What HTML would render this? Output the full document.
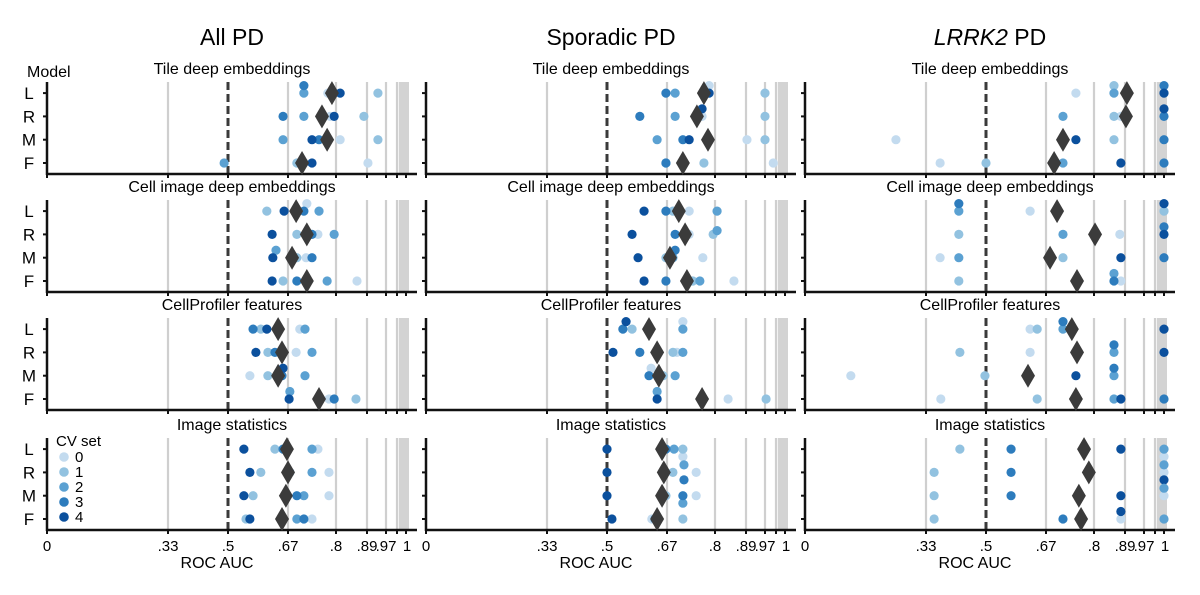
<!DOCTYPE html>
<html><head><meta charset="utf-8">
<style>
body{margin:0;background:#fff;}
svg{display:block;font-family:"Liberation Sans",Arial,sans-serif;}
</style></head>
<body>
<svg id="chart" width="1200" height="595" viewBox="0 0 1200 595" xmlns="http://www.w3.org/2000/svg"></svg>
<script>
// ---- data ----
const columnTitles = ["All PD", "Sporadic PD", "LRRK2 PD"];
const panelTitles = ["Tile deep embeddings", "Cell image deep embeddings", "CellProfiler features", "Image statistics"];
const modelLabels = ["L", "R", "M", "F"];
const cvSets = ["0", "1", "2", "3", "4"];
const tickValues = [0, .33, .5, .67, .8, .89, .97, .99, 1];
const tickLabels = ["0", ".33", ".5", ".67", ".8", ".89", ".97", "", "1"];

// AUC per [panel][model][cvSet]
const allPD = [
 [[.778,.936,.713,.713,.812],[.784,.881,.713,.656,.795],[.812,.936,.656,.754,.735],[.894,.694,.489,.713,.735]],
 [[.721,.610,.754,.713,.659],[.751,.694,.795,.735,.625],[.719,.694,.636,.735,.627],[.861,.656,.776,.694,.625]],
 [[.702,.593,.716,.571,.610],[.692,.613,.735,.633,.579],[.562,.613,.716,.653,.656],[.781,.858,.675,.795,.673]],
 [[.751,.633,.735,.656,.545],[.781,.593,.735,.675,.562],[.781,.571,.713,.694,.545],[.735,.551,.694,.713,.562]]
];
const allPDMeans = [[.789,.762,.776,.708],[.692,.721,.681,.721],[.642,.653,.642,.754],[.667,.670,.664,.653]];
const sporadicPD = [
 [[.784,.970,.692,.667,.784],[.765,.970,.692,.593,.765],[.894,.970,.642,.713,.730],[.985,.770,.667,.667,.713]],
 [[.730,.686,.806,.667,.605],[.730,.795,.806,.692,.571],[.767,.667,.686,.692,.588],[.855,.740,.759,.667,.605]],
 [[.713,.571,.713,.545,.554],[.697,.686,.713,.593,.517],[.625,.659,.692,.619,.647],[.838,.972,.642,.762,.642]],
 [[.713,.713,.689,.667,.500],[.749,.686,.716,.716,.500],[.749,.667,.713,.713,.500],[.627,.713,.642,.636,.514]]
];
const sporadicPDMeans = [[.770,.751,.781,.713],[.702,.719,.678,.724],[.619,.642,.647,.765],[.656,.661,.656,.642]];
const lrrk2PD = [
 [[.751,.858,.858,1,1],[.878,.858,.716,1,1],[.248,.858,.716,1,.751],[.370,.500,.716,1,.878]],
 [[.625,1,.423,.423,1],[.875,.423,.716,1,1],[.370,.716,.423,1,.878],[.878,.423,.858,.858,.754]],
 [[.625,.645,.716,.716,1],[.625,.426,.858,.858,1],[.125,.497,.858,.858,.751],[.372,.645,.858,1,.878]],
 [[1,.426,1,.571,.878],[1,.353,1,.571,1],[1,.353,1,.571,.878],[.878,.353,1,.716,.878]]
];
const lrrk2PDMeans = [[.898,.894,.716,.692],[.700,.803,.681,.754],[.740,.754,.619,.751],[.773,.786,.759,.765]];
// vertical dodge (in dot steps) for overlapping points, [panel][model][cvSet]
const dodgeAll = [
 [[0,0,0,-1,0],[0,0,0,0,0],[0,0,0,0,0],[0,0,0,0,0]],
 [[-1,0,0,0,0],[0,0,0,0,0],[0,0,-1,0,0],[0,0,0,0,0]],
 [[0,0,0,0,0],[0,0,0,0,0],[0,0,0,0,-1],[0,0,-1,0,0]],
 [[0,0,0,0,0],[0,0,0,0,0],[0,0,0,0,0],[0,0,0,0,0]]
];
const dodgeSporadic = [
 [[-1,0,0,0,0],[0,0,0,0,-1],[0,0,0,0,0],[0,0,0,0,0]],
 [[0,0,0,0,0],[0,0,-0.5,0,0],[0,0,0,-1,0],[0,0,0,0,0]],
 [[-1,0,0,0,-1],[0,0,0,0,0],[-1,0,0,0,0],[0,0,-1,0,0]],
 [[1,0,0,0,0],[0,0,-1,1,0],[0,0,1,0,0],[0,0,0,0,0]]
];
const dodgeLrrk2 = [
 [[0,-1,0,-1,0],[0,0,0,0,-1],[0,0,0,0,0],[0,0,0,0,0]],
 [[0,0,0,-1,-1],[0,0,0,-1,0],[0,0,0,0,0],[0,0,-1,0,0]],
 [[0,0,0,-1,0],[0,0,0,-1,0],[0,0,0,-1,0],[0,0,0,0,0]],
 [[1,0,0,0,0],[0,0,-1,0,1],[0,0,-1,0,0],[0,0,0,0,-1]]
];

// ---- layout ----
const NS = "http://www.w3.org/2000/svg";
const svg = document.getElementById('chart');
const colLeft = [47, 426, 805];
const tickOffsets = [0, 121, 181, 241, 289, 320, 339, 350, 359];
const panelBottom = [174, 292, 410, 530];
const panelHeight = 92;
const cvColors = ["#c3dbef", "#92c2e0", "#5ba1d2", "#2d7cbd", "#0b509d"];
const datasets = [allPD, sporadicPD, lrrk2PD];
const meansSets = [allPDMeans, sporadicPDMeans, lrrk2PDMeans];
const dodgeSets = [dodgeAll, dodgeSporadic, dodgeLrrk2];

function xScale(col, v) {
  let off = 0;
  for (let i = 0; i < tickValues.length - 1; i++) {
    if (v <= tickValues[i + 1] || i === tickValues.length - 2) {
      const t = (v - tickValues[i]) / (tickValues[i + 1] - tickValues[i]);
      off = tickOffsets[i] + Math.max(0, Math.min(1, t)) * (tickOffsets[i + 1] - tickOffsets[i]);
      break;
    }
  }
  return colLeft[col] + off;
}
function yScale(panel, model) {
  return panelBottom[panel] - 11 - (3 - model) * 23.3;
}
function mk(tag, attrs, parent, text) {
  const e = document.createElementNS(NS, tag);
  for (const k in attrs) e.setAttribute(k, attrs[k]);
  if (text !== undefined) e.textContent = text;
  (parent || svg).appendChild(e);
  return e;
}

// column titles
columnTitles.forEach((t, c) => {
  const cx = colLeft[c] + 185;
  const el = mk('text', {x: cx, y: 45, 'font-size': 23, 'text-anchor': 'middle', fill: '#000'});
  
  
  if (c === 2) {
    mk('tspan', {'font-style': 'italic'}, el, 'LRRK2');
    mk('tspan', {}, el, ' PD');
  } else el.textContent = t;
});

// model axis label
const ml = mk('text', {x: 27, y: 77, 'font-size': 16}, svg, 'Model');



for (let c = 0; c < 3; c++) {
  const L = colLeft[c];
  for (let p = 0; p < 4; p++) {
    const g = mk('g', {});
    
    
    const bot = panelBottom[p], top = bot - panelHeight;
    // band near 1
    mk('rect', {x: xScale(c, .992), y: top, width: xScale(c, 1) - xScale(c, .992) + 3, height: panelHeight, fill: '#d3d3d3'}, g);
    // grid lines
    [.33, .67, .8, .89, .97, .99].forEach(v => {
      const gl = mk('line', {x1: xScale(c, v), x2: xScale(c, v), y1: top, y2: bot, stroke: '#cfcfcf', 'stroke-width': 2.2}, g);
      
      
    });
    const dl = mk('line', {x1: xScale(c, .5), x2: xScale(c, .5), y1: top, y2: bot, stroke: '#3a3a3a', 'stroke-width': 3, 'stroke-dasharray': '8,4'}, g);
    
    
    // title
    const pt = mk('text', {x: L + 185, y: top - 8, 'font-size': 16, 'text-anchor': 'middle'}, g, panelTitles[p]);
    
    
    // axes
    mk('line', {x1: L, x2: L, y1: top, y2: bot + 1, stroke: '#111', 'stroke-width': 2.5}, g);
    mk('line', {x1: L - 1, x2: L + 370, y1: bot, y2: bot, stroke: '#111', 'stroke-width': 2.5}, g);
    tickValues.forEach(v => {
      mk('line', {x1: xScale(c, v), x2: xScale(c, v), y1: bot, y2: bot + 4, stroke: '#111', 'stroke-width': 2}, g);
    });
    for (let m = 0; m < 4; m++) {
      const y = yScale(p, m);
      mk('line', {x1: L - 4, x2: L, y1: y, y2: y, stroke: '#111', 'stroke-width': 2}, g);
      if (c === 0) {
        const yl = mk('text', {x: 29, y: y + 6, 'font-size': 17, 'text-anchor': 'middle'}, g, modelLabels[m]);
        
        
      }
      // points
      for (let k = 0; k < 5; k++) {
        const v = datasets[c][p][m][k];
        const dot = mk('circle', {cx: xScale(c, v), cy: y + dodgeSets[c][p][m][k] * 7.5, r: 4.6, fill: cvColors[k]}, g);
        
        
      }
      const mx = xScale(c, meansSets[c][p][m]);
      const dm = mk('polygon', {points: `${mx},${y - 12} ${mx + 7},${y} ${mx},${y + 12} ${mx - 7},${y}`, fill: '#3b3b3b'}, g);
      
      
    }
  }
  // x tick labels
  tickValues.forEach((v, i) => {
    if (!tickLabels[i]) return;
    const tl = mk('text', {x: xScale(c, v) + (v === 1 ? 1 : 0), y: 551, 'font-size': 15, 'text-anchor': 'middle'}, svg, tickLabels[i]);
    
    
  });
  const xt = mk('text', {x: L + 170, y: 568, 'font-size': 16, 'text-anchor': 'middle'}, svg, 'ROC AUC');
  
  
}

// legend
const lg = mk('g', {});


mk('text', {x: 56, y: 446, 'font-size': 15}, lg, 'CV set');
cvSets.forEach((s, k) => {
  const y = 457 + k * 15;
  mk('circle', {cx: 64, cy: y, r: 4.8, fill: cvColors[k]}, lg);
  const t = mk('text', {x: 75, y: y + 5, 'font-size': 15}, lg, s);
  
  
});
</script>
</body></html>
